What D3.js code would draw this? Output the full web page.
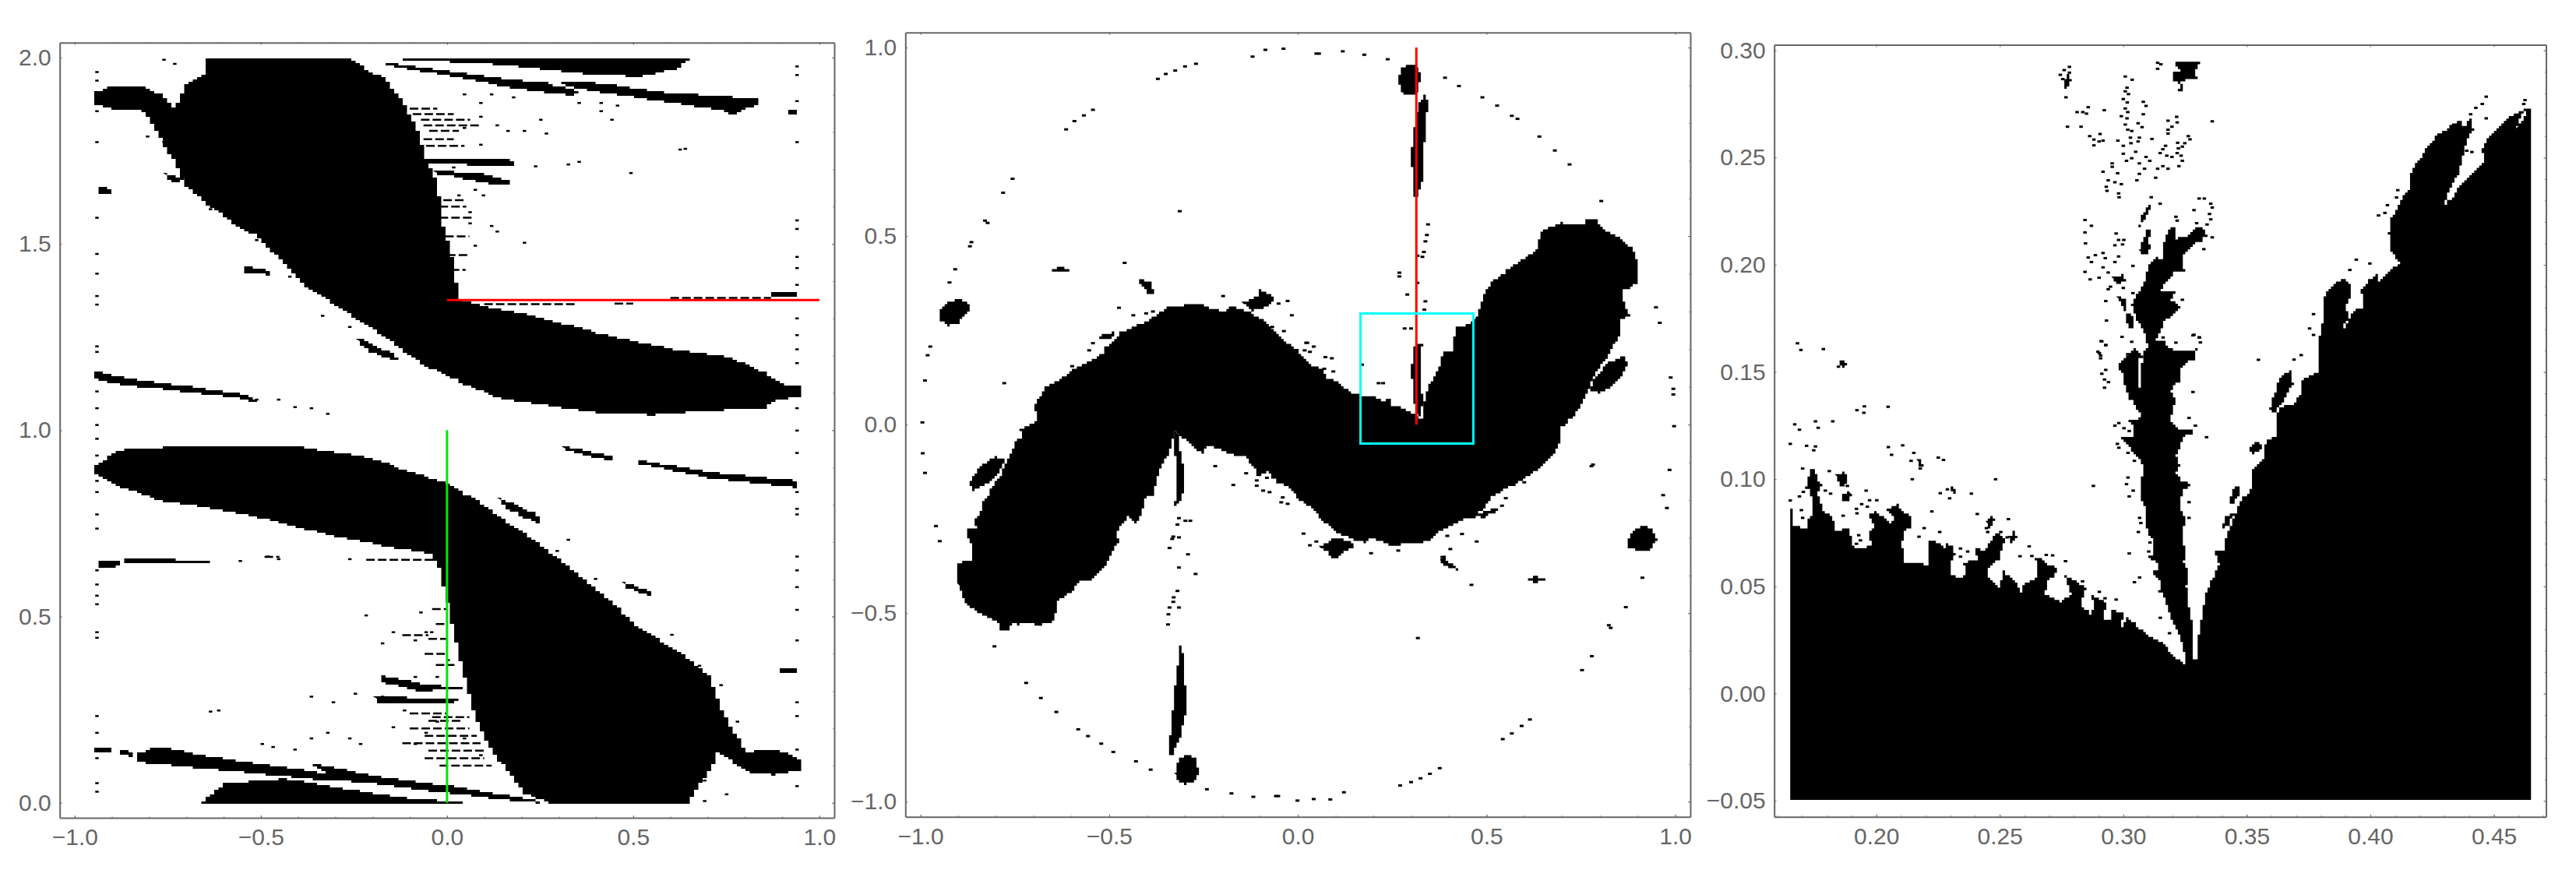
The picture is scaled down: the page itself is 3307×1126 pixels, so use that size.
<!DOCTYPE html>
<html>
<head>
<meta charset="utf-8">
<script src="https://cdn.jsdelivr.net/npm/d3@7"></script>
<style>
  html, body { margin: 0; padding: 0; background: #fff; }
  svg { display: block; }
  text { font-family: "Liberation Sans", Arial, sans-serif; }
</style>
</head>
<body>
<div id="chart"></div>
<script>
// ---- left panel ----
const leftBlobs = [
  // upper mass
  [[-.650,2],[-.283,2],[-.173,1.946],[-.114,1.871],[-.078,1.796],[-.056,1.728],[-.026,1.660],[-.012,1.555],[.010,1.480],[.025,1.390],[.025,1.352],[.091,1.333],[.194,1.315],[.340,1.277],[.458,1.247],[.604,1.217],[.751,1.195],[.854,1.150],[.905,1.119],[.946,1.116],[.946,1.089],[.890,1.082],[.854,1.059],[.707,1.052],[.560,1.041],[.414,1.047],[.267,1.067],[.150,1.086],[.047,1.127],[-.070,1.180],[-.144,1.240],[-.261,1.315],[-.378,1.390],[-.466,1.480],[-.511,1.525],[-.584,1.563],[-.701,1.660],[-.731,1.720],[-.775,1.796],[-.811,1.856],[-.907,1.863],[-.948,1.878],[-.948,1.908],[-.907,1.923],[-.819,1.923],[-.775,1.901],[-.731,1.863],[-.701,1.931],[-.650,1.962]],
  // lower mass
  [[-.948,.909],[-.877,.947],[-.760,.954],[-.613,.957],[-.422,.957],[-.246,.932],[-.114,.894],[0,.856],[.076,.811],[.194,.729],[.326,.631],[.458,.526],[.502,.473],[.619,.406],[.707,.338],[.736,.248],[.802,.135],[.854,.146],[.912,.135],[.946,.113],[.946,.086],[.883,.075],[.810,.083],[.729,.143],[.714,.098],[.663,.023],[.651,0],[.282,0],[.208,.030],[.120,.143],[.076,.233],[.032,.398],[0,.548],[-.019,.624],[-.026,.646],[-.041,.669],[-.173,.691],[-.290,.714],[-.437,.751],[-.613,.789],[-.760,.811],[-.877,.849],[-.948,.887]],
  // top strands
  [[-.224,2],[.663,2],[.619,1.968],[.531,1.949],[.414,1.953],[.267,1.968],[.120,1.983]],
  [[-.188,1.988],[-.026,1.968],[.120,1.946],[.267,1.931],[.355,1.908],[.340,1.898],[.194,1.916],[.047,1.946],[-.100,1.968]],
  [[.296,1.938],[.414,1.931],[.560,1.908],[.707,1.898],[.832,1.889],[.832,1.874],[.780,1.848],[.707,1.863],[.560,1.886],[.414,1.908],[.311,1.928]],
  [[.912,1.860],[.942,1.860],[.942,1.848],[.912,1.848]],
  [[-.078,1.728],[.172,1.728],[.179,1.708],[.076,1.711],[-.056,1.720]],
  [[-.034,1.698],[.091,1.688],[.179,1.663],[.150,1.656],[.047,1.675],[-.019,1.687]],
  [[-.939,1.653],[-.899,1.648],[-.896,1.637],[-.939,1.637]],
  [[-.943,1.157],[-.833,1.134],[-.687,1.116],[-.555,1.097],[-.511,1.077],[-.569,1.089],[-.701,1.104],[-.848,1.119],[-.921,1.131],[-.943,1.142]],
  [[-.246,1.247],[-.173,1.217],[-.129,1.187],[-.202,1.210]],
  [[-.547,1.440],[-.481,1.427],[-.474,1.417],[-.540,1.425]],
  [[-.760,1.688],[-.709,1.672],[-.716,1.663],[-.753,1.678]],
  [[.865,1.372],[.935,1.372],[.935,1.355],[.865,1.355]],
  // bottom strands
  [[-.665,0],[-.599,.053],[-.437,.065],[-.276,.038],[-.129,.015],[.047,0]],
  [[-.833,.135],[-.775,.150],[-.613,.120],[-.378,.086],[-.232,.068],[-.173,.053],[-.378,.065],[-.540,.083],[-.701,.098],[-.789,.105],[-.833,.113]],
  [[-.364,.105],[-.173,.068],[.003,.045],[.194,.015],[.252,0],[.164,.008],[.003,.026],[-.202,.053],[-.334,.086]],
  [[-.943,.150],[-.906,.148],[-.906,.137],[-.943,.137]],
  [[-.874,.143],[-.841,.135],[-.841,.125],[-.874,.130]],
  [[-.180,.341],[-.056,.316],[.054,.311],[.047,.305],[-.070,.300],[-.173,.326]],
  [[-.202,.288],[-.026,.278],[.076,.275],[-.026,.266],[-.173,.270]],
  [[-.939,.649],[-.870,.649],[-.885,.631],[-.936,.631]],
  [[-.870,.658],[-.635,.649],[-.635,.643],[-.870,.646]],
  [[.509,.921],[.707,.887],[.934,.864],[.934,.846],[.707,.872],[.516,.912]],
  [[.311,.957],[.450,.927],[.443,.918],[.318,.947]],
  [[.135,.819],[.238,.774],[.252,.751],[.164,.789]],
  [[.472,.591],[.553,.563],[.546,.557],[.487,.575]],
  [[.898,.361],[.942,.361],[.942,.349],[.898,.349]]
];
const leftStreaks = [
  [-.100,-.026,1.863],[-.092,.018,1.848],[-.070,.062,1.833],[-.063,.091,1.818],[-.048,.032,1.803],[-.063,.018,1.781],[-.056,.047,1.763],
  [-.020,.070,1.570],[-.010,.050,1.617],[-.005,.060,1.520],[0,.060,1.470],[.01,.05,1.430],[-.02,.04,1.600],
  [.600,.870,1.355],[.100,.350,1.338],[.45,.5,1.34],
  [-.04,0,.52],[-.03,0,.48],[-.05,0,.44],[-.06,0,.40],[-.03,.02,.37],[-.05,.04,.22],[-.1,.06,.20],[-.06,.08,.18],[-.12,.09,.16],[-.05,.1,.14],[-.06,.1,.12],[-.02,.12,.10],[-.1,0,.24],[-.04,.06,.23],[-.12,-.05,.45],
  [-.217,-.026,.652],[-.49,-.45,.66]
];
const leftSpecks = [
  // left column
  [-.94,1.961],[-.94,1.938],[-.94,1.856],[-.94,1.773],[-.94,1.570],[-.94,1.473],[-.94,1.420],[-.94,1.360],[-.94,1.337],[-.94,1.225],[-.94,1.210],[-.94,1.104],[-.94,1.059],[-.94,1.014],[-.94,.977],[-.94,.932],[-.94,.864],[-.94,.834],[-.94,.774],[-.94,.736],[-.94,.624],[-.94,.586],[-.94,.556],[-.94,.533],[-.94,.458],[-.94,.443],[-.94,.233],[-.94,.188],[-.94,.120],[-.94,.053],[-.94,.030],
  // right column
  [.94,1.976],[.94,1.953],[.94,1.883],[.94,1.773],[.94,1.563],[.94,1.540],[.94,1.465],[.94,1.435],[.94,1.390],[.94,1.300],[.94,1.255],[.94,1.217],[.94,1.180],[.94,1.059],[.94,.999],[.94,.939],[.94,.834],[.94,.789],[.94,.774],[.94,.661],[.94,.624],[.94,.579],[.94,.518],[.94,.436],[.94,.270],[.94,.233],[.94,.143],[.94,.045],
  // scatter, upper half
  [.047,1.901],[.091,1.878],[.120,1.901],[.179,1.893],[.252,1.833],[.208,1.803],[.267,1.796],[.355,1.878],[.414,1.878],[.458,1.871],[.443,1.833],[.091,1.841],[.135,1.818],[.164,1.803],[.047,1.811],[.091,1.766],[.018,1.705],[.076,1.645],[.098,1.630],[.062,1.585],[.135,1.713],[.238,1.708],[.326,1.713],[.355,1.720],[.494,1.690],[.626,1.753],[.640,1.755],[.120,1.548],[.135,1.533],[.208,1.503],[.414,1.856],[.032,1.630],[.047,1.600],[.062,1.555],[.076,1.495],
  [-.804,1.788],[-.760,1.773],[-.731,1.983],[-.760,1.994],[-.584,1.578],[-.635,1.593],[-.437,1.495],[-.364,1.382],[-.511,1.510],[-.334,1.307],[-.422,1.412],[-.261,1.277],[-.452,1.082],[-.364,1.059],[-.320,1.044],[-.408,1.062],[-.511,1.082],
  // scatter, lower half
  [-.613,.248],[-.635,.245],[-.246,.293],[-.364,.285],[-.305,.270],[-.173,.428],[-.144,.458],[-.070,.511],[-.056,.458],[-.085,.436],[-.114,.248],[-.144,.203],[-.232,.158],[-.261,.173],[-.320,.188],[-.364,.173],[-.408,.143],[-.496,.158],[-.467,.150],[-.217,.503],[-.481,.661],[-.452,.654],[-.555,.649],[-.261,.654],[.296,.676],[.326,.706],[.399,.601],[.340,.601],[.604,.451],[.678,.368],[.736,.316],[.780,.218],[.648,.023],[.692,.060],[.751,.023],[.692,.005],[-.026,.218],[-.056,.188],[-.085,.158],[.047,.173],[.091,.128],[.003,.383],[-.026,.338],[-.041,.458],[-.085,.338],[-.173,.285]
];
const leftXTicks = [-1, -.5, 0, .5, 1];
const leftYTicks = [0, .5, 1, 1.5, 2];
const leftMinorX = d3.range(-10, 11).map(d => d / 10);
const leftMinorY = d3.range(0, 21).map(d => d / 10);
const greenLine = [[0, 0], [0, 1]];
const redLineLeft = [[0, 1.349], [1, 1.349]];

// ---- middle panel ----
const midBlobs = [
  // main S
  [[-.900,-.423],[-.906,-.382],[-.897,-.365],[-.859,-.355],[-.866,-.317],[-.876,-.289],[-.873,-.272],[-.852,-.275],[-.856,-.248],[-.835,-.224],[-.838,-.210],[-.818,-.182],[-.811,-.162],[-.787,-.131],[-.776,-.100],[-.766,-.086],[-.749,-.045],[-.732,-.031],[-.735,-.014],[-.694,.011],[-.690,.038],[-.701,.049],[-.687,.073],[-.670,.100],[-.639,.117],[-.597,.145],[-.546,.172],[-.515,.193],[-.508,.210],[-.481,.228],[-.474,.245],[-.439,.259],[-.391,.279],[-.346,.310],[-.302,.317],[-.267,.321],[-.240,.310],[-.198,.300],[-.181,.314],[-.143,.303],[-.102,.283],[-.075,.259],[-.040,.224],[-.013,.204],[.035,.155],[.063,.148],[.077,.124],[.111,.107],[.142,.083],[.170,.076],[.200,.076],[.224,.055],[.242,.076],[.245,.052],[.262,.048],[.283,.038],[.311,.028],[.317,.017],[.335,.017],[.331,.052],[.345,.100],[.366,.141],[.380,.169],[.383,.193],[.410,.197],[.410,.224],[.421,.259],[.455,.266],[.476,.293],[.496,.355],[.517,.383],[.548,.407],[.582,.431],[.634,.469],[.641,.507],[.651,.517],[.696,.534],[.761,.531],[.765,.545],[.796,.545],[.799,.524],[.840,.500],[.882,.469],[.902,.424],[.902,.372],[.861,.355],[.865,.314],[.878,.290],[.851,.272],[.857,.238],[.837,.210],[.820,.176],[.799,.148],[.792,.141],[.775,.100],[.768,.079],[.748,.045],[.730,.017],[.696,-.010],[.699,-.045],[.668,-.093],[.641,-.117],[.593,-.151],[.548,-.172],[.514,-.196],[.476,-.244],[.434,-.255],[.386,-.279],[.345,-.310],[.290,-.317],[.249,-.320],[.194,-.300],[.180,-.313],[.139,-.300],[.104,-.286],[.063,-.248],[.035,-.217],[.011,-.200],[-.026,-.162],[-.054,-.151],[-.078,-.124],[-.102,-.141],[-.116,-.113],[-.137,-.086],[-.171,-.079],[-.195,-.069],[-.233,-.055],[-.250,-.076],[-.267,-.065],[-.302,-.034],[-.326,-.016],[-.333,-.051],[-.346,-.086],[-.371,-.134],[-.378,-.169],[-.384,-.189],[-.408,-.196],[-.412,-.237],[-.426,-.262],[-.446,-.244],[-.481,-.286],[-.474,-.317],[-.494,-.341],[-.508,-.375],[-.549,-.417],[-.577,-.417],[-.598,-.444],[-.642,-.475],[-.639,-.496],[-.649,-.523],[-.694,-.534],[-.701,-.523],[-.735,-.530],[-.759,-.527],[-.763,-.544],[-.794,-.544],[-.790,-.527],[-.821,-.506],[-.852,-.496],[-.883,-.465]],
  // discs
  [[-.952,.303],[-.935,.322],[-.900,.334],[-.873,.317],[-.873,.297],[-.893,.272],[-.921,.262],[-.945,.275]],
  [[.871,-.306],[.888,-.279],[.912,-.269],[.936,-.276],[.953,-.306],[.935,-.335],[.902,-.337],[.880,-.325]],
  [[.267,.920],[.276,.945],[.295,.957],[.318,.945],[.325,.920],[.318,.880],[.295,.870],[.275,.885]],
  [[-.325,-.920],[-.316,-.885],[-.295,-.875],[-.270,-.885],[-.262,-.925],[-.272,-.945],[-.295,-.955],[-.318,-.945]],
  // streaks on the vertical
  [[.308,.786],[.318,.846],[.340,.890],[.344,.846],[.332,.697],[.329,.637],[.311,.593],[.300,.712]],
  [[-.313,-.588],[-.303,-.611],[-.295,-.759],[-.313,-.834],[-.335,-.890],[-.342,-.863],[-.332,-.759],[-.321,-.655]],
  [[-.329,-.020],[-.319,-.024],[-.309,-.086],[-.302,-.120],[-.305,-.189],[-.315,-.210],[-.329,-.217],[-.321,-.182],[-.322,-.120],[-.326,-.065]],
  [[.300,.148],[.311,.217],[.331,.217],[.324,.148],[.331,.052],[.321,.017],[.311,.038],[.307,.093]],
  // satellites
  [[.789,.131],[.816,.162],[.864,.183],[.875,.159],[.858,.128],[.830,.097],[.799,.083],[.775,.093]],
  [[-.869,-.151],[-.838,-.106],[-.804,-.086],[-.773,-.093],[-.790,-.131],[-.818,-.155],[-.862,-.179]],
  [[-.150,.324],[-.109,.341],[-.102,.359],[-.061,.331],[-.082,.310],[-.116,.303]],
  [[.056,-.324],[.090,-.303],[.132,-.306],[.152,-.324],[.111,-.348],[.104,-.362],[.084,-.341]],
  [[-.657,.412],[-.632,.418],[-.604,.407],[-.632,.404]],
  [[.605,-.407],[.630,-.403],[.663,-.415],[.630,-.418]],
  [[-.422,.385],[-.393,.377],[-.379,.343],[-.396,.348],[-.408,.363]],
  [[.383,-.343],[.398,-.366],[.427,-.385],[.402,-.380],[.380,-.366]],
  [[-.529,.235],[-.481,.248],[-.488,.231],[-.515,.224]],
  [[.476,-.234],[.527,-.220],[.531,-.231],[.489,-.248]],
  [[-.691,-.533],[-.643,-.495],[-.662,-.525]],
  [[.644,.496],[.702,.536],[.666,.516]]
];
const midSpecks = [
  [-.086,.994],[-.038,.997],[.049,.984],[.056,.984],[.119,.990],[.176,.981],[.238,.969],[-.120,.976],[-.270,.957],[-.299,.950],[-.325,.939],[-.350,.930],[-.371,.917],[-.543,.835],[-.567,.820],[-.592,.805],[-.614,.783],[-.756,.652],[-.781,.615],[-.829,.541],[-.822,.535],[-.865,.484],[-.869,.473],[-.908,.412],[-.923,.377],[-.974,.207],[-.981,.184],[-.988,.117],[-.778,.110],[-.995,.006],[-.994,-.076],[-.988,-.128],[-.959,-.269],[-.949,-.309],[-.804,-.588],[-.720,-.685],[-.681,-.725],[-.640,-.762],[-.582,-.808],[-.556,-.826],[-.521,-.846],[-.489,-.868],[-.429,-.893],[-.390,-.915],[-.241,-.967],[-.176,-.978],[-.118,-.987],[-.052,-.985],[-.058,-.985],[-.001,-.997],[.042,-.993],[.086,-.994],[.122,-.975],[.271,-.957],[.300,-.948],[.325,-.938],[.350,-.926],[.376,-.911],[.543,-.834],[.567,-.819],[.593,-.799],[.615,-.782],[.753,-.651],[.779,-.614],[.829,-.539],[.824,-.532],[.869,-.484],[.913,-.406],[.460,-.425],[.978,-.221],[.968,-.187],[.985,-.120],[.995,.080],[.995,.095],[.997,-.004],[.988,.125],[.959,.270],[.949,.311],[.804,.593],[.720,.690],[.681,.727],[.640,.764],[.582,.811],[.567,.819],[.528,.846],[.489,.868],[.427,.898],[.390,.920],
  [-.313,.566],[-.459,.429],[.318,-.566],[.782,-.106],
  // near the left half of the S
  [-.474,.310],[-.436,.290],[-.402,.295],[-.384,.300],[-.198,.341],[-.543,.216],[-.553,.197],[-.598,.155],[-.051,.321],[-.027,.328],[-.016,.290],[-.068,.259],[-.037,.248],[.025,.217],[.042,.207],[.032,.193],[.018,.197],[.073,.179],[.090,.176],[.070,.148],[.094,.141],[-.219,-.110],[-.171,-.160],[-.137,-.129],[-.109,-.148],[-.082,-.141],[-.109,-.162],[-.092,-.175],[-.075,-.179],[-.040,-.193],[-.027,-.210],[-.044,-.206],[-.315,-.248],[-.298,-.255],[-.285,-.255],[-.319,-.265],[-.333,-.303],[-.330,-.297],[-.315,-.299],[-.340,-.327],[-.291,-.344],[-.315,-.379],[-.271,-.396],[-.329,-.458],[-.330,-.470],[-.319,-.441],[-.315,-.485],[-.340,-.485],[-.343,-.503],[-.344,-.530],
  // near the right half of the S
  [.345,.531],[.342,.503],[.338,.486],[.334,.458],[.330,.445],[.317,.448],[.269,.403],[.269,.393],[.317,.376],[.290,.345],[.338,.327],[.335,.305],[.283,.255],[.300,.255],[.170,.159],[.214,.110],[.226,.110],[.022,.217],[.778,-.110],[.600,-.153],[.551,-.195],[.541,-.215],[.396,-.295],[.435,-.290],[.474,-.310],[.404,-.330],[.383,-.351],[.383,-.358],[.194,-.341],[.266,-.334],[.015,-.289],[.032,-.320],[.049,-.310]
];
const midTicks = [-1, -.5, 0, .5, 1];
const midMinor = d3.range(-10, 11).map(d => d / 10);
const redLineMid = [[.314, 0], [.314, 1]];
const cyanBox = [[.166, -.05], [.465, -.05], [.465, .295], [.166, .295]];

// ---- right panel ----
const rightBlobs = [
  // main mass
  [[.1651,.0866],[.1663,.0856],[.1663,.0784],[.1715,.0766],[.1726,.0814],[.1744,.0832],[.1740,.0911],[.1731,.0959],[.1715,.0962],[.1721,.0995],[.1731,.1046],[.1750,.1046],[.1763,.0995],[.1778,.0965],[.1763,.0935],[.1784,.0850],[.1820,.0826],[.1836,.0754],[.1883,.0778],[.1905,.0687],[.1931,.0675],[.1978,.0699],[.1973,.0754],[.1994,.0790],[.1968,.0838],[.1994,.0847],[.2031,.0820],[.2057,.0784],[.2073,.0826],[.2046,.0862],[.2078,.0881],[.2115,.0844],[.2141,.0820],[.2141,.0772],[.2115,.0754],[.2104,.0687],[.2115,.0614],[.2162,.0608],[.2204,.0602],[.2215,.0620],[.2209,.0717],[.2257,.0699],[.2283,.0663],[.2283,.0699],[.2304,.0687],[.2320,.0639],[.2299,.0602],[.2299,.0554],[.2341,.0536],[.2362,.0554],[.2356,.0614],[.2409,.0620],[.2404,.0675],[.2435,.0669],[.2488,.0754],[.2519,.0717],[.2509,.0669],[.2498,.0626],[.2456,.0584],[.2451,.0536],[.2488,.0493],[.2504,.0499],[.2509,.0572],[.2551,.0530],[.2572,.0512],[.2582,.0463],[.2593,.0505],[.2656,.0554],[.2645,.0632],[.2661,.0632],[.2688,.0602],[.2735,.0590],[.2735,.0560],[.2698,.0530],[.2682,.0463],[.2740,.0427],[.2787,.0469],[.2766,.0548],[.2793,.0530],[.2850,.0493],[.2824,.0409],[.2866,.0372],[.2882,.0415],[.2871,.0457],[.2935,.0421],[.2919,.0348],[.2950,.0342],[.2956,.0391],[.3003,.0372],[.2992,.0312],[.3013,.0354],[.3055,.0312],[.3097,.0270],[.3150,.0239],[.3203,.0173],[.3250,.0130],
   [.3255,.0167],[.3224,.0282],[.3187,.0384],[.3166,.0463],[.3145,.0481],[.3155,.0524],[.3119,.0560],[.3145,.0602],[.3103,.0639],[.3124,.0669],[.3124,.0717],[.3098,.0754],[.3092,.0826],[.3087,.0875],[.3071,.0911],[.3077,.1032],[.3082,.1068],[.3045,.1123],[.3024,.1165],[.2982,.1201],[.3035,.1189],[.3040,.1250],[.3024,.1274],[.3077,.1292],[.3045,.1358],[.3019,.1377],[.3024,.1395],[.2993,.1467],[.3003,.1492],[.2972,.1522],[.3014,.1582],[.3056,.1582],[.3061,.1431],[.3071,.1425],[.3077,.1576],[.3098,.1625],[.3092,.1679],[.3050,.1758],
   [.3034,.1819],[.3060,.1880],[.3086,.1922],[.3102,.2001],[.3128,.2037],[.3155,.2025],[.3162,.2073],[.3171,.2146],[.3197,.2182],[.3213,.2170],[.3213,.2122],[.3255,.2134],[.3286,.2170],[.3318,.2170],[.3339,.2134],[.3318,.2110],[.3286,.2097],[.3255,.2055],[.3239,.2025],[.3249,.1964],[.3213,.1976],[.3192,.1934],[.3170,.1922],[.3155,.1880],[.3213,.1880],[.3192,.1831],[.3234,.1801],[.3202,.1759],[.3160,.1734],[.3155,.1692],[.3134,.1650],[.3160,.1638],[.3171,.1650],[.3181,.1607],[.3223,.1601],[.3297,.1607],
   [.3292,.1552],[.3266,.1558],[.3234,.1504],[.3234,.1461],[.3203,.1437],[.3192,.1401],[.3213,.1365],[.3203,.1322],[.3187,.1274],[.3213,.1238],[.3276,.1231],[.3282,.1207],[.3245,.1201],[.3229,.1141],[.3213,.1104],[.3229,.1062],[.3213,.1026],[.3234,.0989],[.3282,.0977],[.3240,.0947],[.3229,.0862],[.3255,.0802],[.3240,.0754],[.3245,.0693],[.3255,.0663],[.3245,.0608],[.3266,.0572],[.3255,.0499],[.3266,.0390],[.3276,.0330],[.3282,.0209],[.3287,.0142],
   [.3295,.0142],[.3297,.0209],[.3313,.0330],[.3324,.0403],[.3339,.0487],[.3360,.0536],[.3387,.0608],[.3371,.0663],[.3408,.0669],[.3408,.0717],[.3429,.0772],[.3460,.0862],[.3476,.0905],[.3523,.0965],[.3518,.1032],[.3571,.1110],[.3576,.1177],[.3623,.1201],[.3618,.1298],[.3639,.1340],[.3686,.1346],[.3723,.1413],[.3718,.1467],[.3797,.1510],[.3786,.1552],[.3791,.1643],[.3802,.1710],
   [.3812,.1782],[.3807,.1842],[.3849,.1915],[.3891,.1933],[.3922,.1909],[.3917,.1842],[.3901,.1794],[.3912,.1752],[.3891,.1703],[.3927,.1782],[.3969,.1806],[.3964,.1891],[.4001,.1939],[.4038,.1964],[.4033,.1921],[.4117,.2018],[.4085,.2072],[.4075,.2157],[.4085,.2218],[.4117,.2290],[.4159,.2363],[.4159,.2423],[.4185,.2472],[.4211,.2508],[.4222,.2544],[.4274,.2611],[.4316,.2641],[.4358,.2677],[.4379,.2641],[.4411,.2702],[.4416,.2629],[.4390,.2568],[.4358,.2423],[.4327,.2363],[.4301,.2278],[.4337,.2326],[.4379,.2399],[.4432,.2447],[.4463,.2496],[.4453,.2544],[.4484,.2605],[.4547,.2683],[.4600,.2714],[.4650,.2732],[.4650,-.05],[.1651,-.05]],
  // islands
  [[.3633,.1479],[.3680,.1510],[.3686,.1443],[.3654,.1371],[.3617,.1310],[.3591,.1322],[.3617,.1419]],
  [[.3507,.1147],[.3539,.1183],[.3565,.1141],[.3528,.1116]],
  [[.3439,.0959],[.3466,.0977],[.3471,.0935],[.3439,.0862],[.3434,.0911]],
  [[.3397,.0772],[.3413,.0826],[.3450,.0844],[.3434,.0802],[.3423,.0778]],
  // top cluster
  [[.3207,.2950],[.3312,.2950],[.3291,.2896],[.3297,.2866],[.3270,.2866],[.3234,.2854],[.3244,.2805],[.3223,.2811],[.3228,.2842],[.3202,.2866],[.3202,.2902],[.3228,.2908]],
  [[.2771,.2884],[.2787,.2860],[.2776,.2817],[.2766,.2823],[.2766,.2866]],
  [[.3060,.2158],[.3071,.2218],[.3102,.2291],[.3113,.2267],[.3081,.2194]],
  [[.3065,.2073],[.3097,.2170],[.3113,.2158],[.3102,.2097],[.3113,.2085],[.3097,.2049],[.3071,.2049]],
  [[.2955,.1940],[.2992,.1952],[.3013,.1928],[.2981,.1910],[.2960,.1922]],
  [[.2976,.1855],[.3013,.1837],[.3008,.1789],[.2987,.1825]],
  [[.3013,.1771],[.3039,.1759],[.3044,.1698],[.3018,.1710]],
  [[.3013,.1589],[.3044,.1607],[.3081,.1565],[.3018,.1565]],
  // small blobs to the left
  [[.1847,.1552],[.1873,.1558],[.1880,.1528],[.1862,.1522]],
  [[.2165,.1095],[.2178,.1090],[.2188,.1060],[.2175,.1065]],
  [[.2305,.0965],[.2318,.0955],[.2325,.0925],[.2310,.0930]],
  [[.1835,.1020],[.1870,.1040],[.1885,.1010],[.1875,.0965],[.1855,.0965]],
  [[.1855,.0925],[.1885,.0945],[.1900,.0925],[.1885,.0885],[.1870,.0900]],
  [[.2440,.0800],[.2470,.0845],[.2480,.0800],[.2460,.0770]],
  [[.2535,.0735],[.2555,.0755],[.2570,.0725],[.2550,.0700]]
];
// slivers of white that sit inside black
const rightHoles = [
  [[.4590,.2641],[.4611,.2708],[.4632,.2714],[.4616,.2665]]
];
const rightSpecks = [
  [.2782,.2923],[.2761,.2908],[.2782,.2896],[.2745,.2886],[.2755,.2866],[.2768,.2781],[.3008,.2878],[.3036,.2863],[.3139,.2942],[.3152,.2935],[.3139,.2914],[.3015,.2826],[.3008,.2809],[.3021,.2796],[.3000,.2773],[.3016,.2757],[.3081,.2760],[.3092,.2741],[.3081,.2702],[.3008,.2729],[.3018,.2712],[.2858,.2735],[.2813,.2712],[.2836,.2712],[.2851,.2705],[.2923,.2721],[.2992,.2693],[.3015,.2683],[.3008,.2654],[.2774,.2644],[.2829,.2644],[.3060,.2660],[.3076,.2642],[.3018,.2630],[.3034,.2624],[.3181,.2672],[.3216,.2690],[.3218,.2664],[.3197,.2644],[.3181,.2630],[.3181,.2612],[.2906,.2610],[.2864,.2600],[.2881,.2584],[.2902,.2575],[.2918,.2579],[.2881,.2557],[.2978,.2579],[.3029,.2593],[.3065,.2593],[.3060,.2575],[.3116,.2587],[.3031,.2567],[.3000,.2555],[.3263,.2600],[.3270,.2585],[.3249,.2567],[.3220,.2569],[.3239,.2551],[.3223,.2543],[.3171,.2555],[.3160,.2539],[.3149,.2521],[.3176,.2509],[.3197,.2503],[.3218,.2521],[.3234,.2509],[.3239,.2485],[.3225,.2460],[.3000,.2518],[.3034,.2497],[.3013,.2485],[.3050,.2527],[.3065,.2473],[.3092,.2503],[.3107,.2485],[.3086,.2448],[.3065,.2424],[.3055,.2394],[.3181,.2448],[.3160,.2460],[.3139,.2448],[.3131,.2406],[.2955,.2473],[.2955,.2457],[.2918,.2434],[.2977,.2427],[.2939,.2394],[.2966,.2385],[.2992,.2376],[.2931,.2364],[.2934,.2345],[.2981,.2333],[.2983,.2315],[.3113,.2315],[.3149,.2285],[.3307,.2309],[.3328,.2309],[.3354,.2285],[.3360,.2267],[.3286,.2255],[.3213,.2224],[.3218,.2206],[.3349,.2237],[.3354,.2212],[.3339,.2188],[.3297,.2194],[.3360,.2128],[.3326,.2073],[.2845,.2209],[.2871,.2182],[.2845,.2151],[.2847,.2100],[.2971,.2146],[.2981,.2116],[.3002,.2116],[.2997,.2095],[.2966,.2091],[.2918,.2055],[.2887,.2045],[.2858,.2034],[.2871,.2013],[.2981,.2039],[.2927,.2031],[.2845,.1967],[.2918,.1988],[.2866,.1932],[.2902,.1940],[.2966,.2013],[.2939,.1964],[.3039,.1995],[.2939,.1886],[.3000,.1892],[.2948,.1898],[.2929,.1831],[.3039,.1868],[.3239,.1837],[.2932,.1740],[.2995,.1664],[.3034,.1641],[.2910,.1644],[.2929,.1626],[.2897,.1595],[.2908,.1577],[.3286,.1674],[.3307,.1662],[.3312,.1638],[.3360,.2669],
  [.1681,.1634],[.1695,.1603],[.1786,.1607],[.1847,.1525],[.1952,.1340],[.1922,.1322],[.1950,.1310],[.2048,.1338],[.1670,.1256],[.1689,.1231],[.1754,.1270],[.1765,.1240],[.1824,.1270],[.1652,.1165],[.1718,.1156],[.1754,.1153],[.1747,.1135],[.2049,.1150],[.2107,.1158],[.2062,.1114],[.2152,.1123],[.2141,.1086],[.2251,.1101],[.2272,.1090],[.2178,.1050],[.2146,.1000],[.2483,.1000],[.2879,.0969],[.2288,.0953],[.2259,.0935],[.2297,.0911],[.2385,.0933],[.1702,.1050],[.1689,.0920],[.1705,.0941],[.1652,.0901],[.1810,.1038],[.1794,.0947],[.1815,.0933],[.1883,.0969],[.1889,.0931],[.1959,.0947],[.1973,.0902],[.2002,.0902],[.1941,.0884],[.1920,.0862],[.1964,.0872],[.1922,.0841],[.1697,.0856],[.1702,.0820],[.1866,.0830],[.2225,.0850],[.2194,.0772],[.2257,.0754],[.2173,.0732],[.1929,.0739],[.1936,.0715],[.1920,.0699],[.2409,.0838],[.2446,.0772],[.2451,.0754],[.2535,.0814],[.2504,.0754],[.2530,.0729],[.2341,.0677],[.2370,.0663],[.2341,.0639],[.2619,.0687],[.2582,.0641],[.2630,.0642],[.2714,.0645],[.2688,.0647],[.2766,.0618],[.2835,.0524],[.2903,.0475],[.2971,.0439],[.2926,.0445],[.3024,.0654],[.3066,.0542],[.3045,.0520],[.3150,.0354],[.3187,.0282],[.2913,.1643],[.2929,.1625],[.2903,.1588],[.2908,.1564],[.2913,.1492],[.2929,.1510],[.2924,.1465],[.2940,.1453],[.2924,.1427],[.2966,.1250],[.2982,.1262],[.3003,.1238],[.3024,.1225],[.2976,.1165],[.2982,.1147],[.3019,.1123],[.3045,.1086],[.3019,.1008],[.3013,.0977],[.3040,.0947],[.3024,.0920],[.3066,.0820],[.3071,.0796],[.3061,.0754],[.3108,.0705],[.3103,.0663],
  [.3282,.1671],[.3308,.1661],[.3282,.1407],[.3266,.1286],[.3292,.1250],[.3337,.1196],[.3547,.1557],[.3691,.1558],[.3720,.1579],[.3266,.0893],[.3266,.0820],[.3213,.1637],[.3161,.1661],[.3134,.1613],[.3171,.1588],
  [.3943,.2024],[.3998,.2006],[.3917,.1976],[.4033,.2230],[.4059,.2242],[.4069,.2278],[.4106,.2314],[.4111,.2348],[.3770,.1770],[.3754,.1703],[.3770,.1673],[.4469,.2784],[.4453,.2750],[.4427,.2732],[.4406,.2702],[.4469,.2683],[.4626,.2768],[.4621,.2750],[.4327,.2647],[.4390,.2532],[.4411,.2526]
];
const rightXTicks = [.2, .25, .3, .35, .4, .45];
const rightYTicks = [-.05, 0, .05, .1, .15, .2, .25, .3];
const rightMinorX = d3.range(16, 48).map(d => d / 100);
const rightMinorY = d3.range(-5, 31).map(d => d / 100);

const width = 3307, height = 1126;
const axisColor = '#666';

const svg = d3.select('#chart').append('svg')
  .attr('width', width)
  .attr('height', height);

// outline snapped to the raster cells of the original plot
function stairPath(pts, cw, ch) {
  const out = [];
  pts.forEach((a, i) => {
    const b = pts[(i + 1) % pts.length];
    const n = Math.ceil(Math.max(Math.abs(b[0] - a[0]) / cw, Math.abs(b[1] - a[1]) / ch)) || 1;
    for (let k = 0; k < n; k++) {
      const qx = Math.round((a[0] + (b[0] - a[0]) * k / n) / cw) * cw;
      const qy = Math.round((a[1] + (b[1] - a[1]) * k / n) / ch) * ch;
      if (out.length) out.push([qx, out[out.length - 1][1]]);
      out.push([qx, qy]);
    }
  });
  return d3.line()(out) + 'Z';
}

// draw one framed panel
function drawPanel(p) {
  const x = d3.scaleLinear().domain(p.xDomain).range(p.xRange);
  const y = d3.scaleLinear().domain(p.yDomain).range(p.yRange);
  const g = svg.append('g');

  const area = d => stairPath(d.map(v => [x(v[0]), y(v[1])]), p.cellW, p.cellH);

  g.selectAll('path.blob').data(p.blobs).join('path')
    .attr('class', 'blob')
    .attr('d', area)
    .attr('fill', '#000');

  g.selectAll('path.hole').data(p.holes || []).join('path')
    .attr('class', 'hole')
    .attr('d', area)
    .attr('fill', '#fff');

  g.selectAll('line.streak').data(p.streaks || []).join('line')
    .attr('class', 'streak')
    .attr('x1', d => x(d[0]))
    .attr('x2', d => x(d[1]))
    .attr('y1', d => y(d[2]))
    .attr('y2', d => y(d[2]))
    .attr('stroke', '#000')
    .attr('stroke-width', 2.5)
    .attr('stroke-dasharray', '11 4');

  g.selectAll('rect.speck').data(p.specks).join('rect')
    .attr('class', 'speck')
    .attr('x', d => x(d[0]) - p.speckW / 2)
    .attr('y', d => y(d[1]) - p.speckH / 2)
    .attr('width', p.speckW)
    .attr('height', p.speckH)
    .attr('fill', '#000');

  // coloured overlays
  const line = d3.line().x(d => x(d[0])).y(d => y(d[1]));
  (p.overlays || []).forEach(o => {
    g.append('path')
      .attr('d', line(o.points) + (o.closed ? 'Z' : ''))
      .attr('fill', 'none')
      .attr('stroke', o.color)
      .attr('stroke-width', o.width);
  });

  // frame axes, the long ones carry the labels
  const axes = [
    [d3.axisBottom(x), 'translate(0,' + p.yRange[0] + ')', p.xTicks, p.xMinor, 14],
    [d3.axisLeft(y), 'translate(' + p.xRange[0] + ',0)', p.yTicks, p.yMinor, 11],
    [d3.axisTop(x), 'translate(0,' + p.yRange[1] + ')', p.xTicks, p.xMinor, 0],
    [d3.axisRight(y), 'translate(' + p.xRange[1] + ',0)', p.yTicks, p.yMinor, 0]
  ];
  axes.forEach(([axis, tr, major, minor, pad]) => {
    const minorG = g.append('g').attr('transform', tr)
      .call(axis.tickValues(minor).tickSize(-1.5).tickSizeOuter(0).tickFormat(''));
    minorG.select('.domain').remove();
    minorG.selectAll('line').attr('stroke', axisColor);

    const majorG = g.append('g').attr('transform', tr)
      .call(axis.tickValues(major).tickSize(-3).tickSizeOuter(0).tickPadding(pad)
        .tickFormat(pad ? p.format : ''));
    majorG.select('.domain').attr('stroke', axisColor).attr('stroke-width', 2);
    majorG.selectAll('line').attr('stroke', axisColor);
    majorG.selectAll('text')
      .attr('fill', axisColor)
      .style('font-family', '"Liberation Sans", Arial, sans-serif')
      .style('font-size', '30px');
  });
}

drawPanel({
  xDomain: [-1.04, 1.04], yDomain: [-.04, 2.04],
  xRange: [76.7, 1071], yRange: [1050, 54.7],
  blobs: leftBlobs, streaks: leftStreaks, specks: leftSpecks,
  cellW: 5.5, cellH: 3, speckW: 4.5, speckH: 2.5,
  xTicks: leftXTicks, yTicks: leftYTicks, xMinor: leftMinorX, yMinor: leftMinorY,
  format: d3.format('.1f'),
  overlays: [
    { points: greenLine, color: '#00e800', width: 3 },
    { points: redLineLeft, color: '#f00', width: 3 }
  ]
});

drawPanel({
  xDomain: [-1.04, 1.04], yDomain: [-1.04, 1.04],
  xRange: [1162.3, 2170], yRange: [1048.7, 41.7],
  blobs: midBlobs, specks: midSpecks,
  cellW: 3.2, cellH: 3.2, speckW: 5, speckH: 3,
  xTicks: midTicks, yTicks: midTicks, xMinor: midMinor, yMinor: midMinor,
  format: d3.format('.1f'),
  overlays: [
    { points: redLineMid, color: '#f00', width: 3 },
    { points: cyanBox, color: '#0ff', width: 3, closed: true }
  ]
});

drawPanel({
  xDomain: [.1587, .4711], yDomain: [-.0574, .3026],
  xRange: [2277.7, 3268.5], yRange: [1048.7, 57.5],
  blobs: rightBlobs, holes: rightHoles, specks: rightSpecks,
  cellW: 3.17, cellH: 3.17, speckW: 4.5, speckH: 3,
  xTicks: rightXTicks, yTicks: rightYTicks, xMinor: rightMinorX, yMinor: rightMinorY,
  format: d3.format('.2f')
});
</script>
</body>
</html>
